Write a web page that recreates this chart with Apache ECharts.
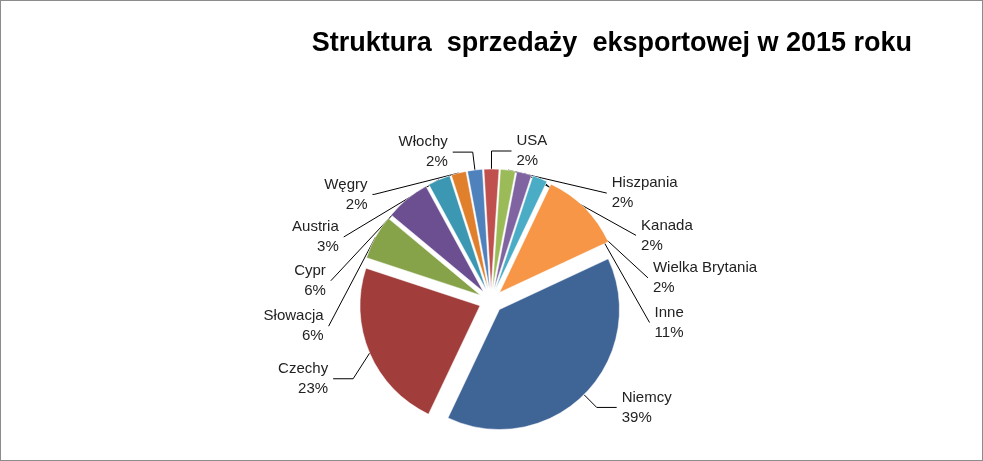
<!DOCTYPE html>
<html><head><meta charset="utf-8">
<script src="https://cdn.jsdelivr.net/npm/echarts@6/dist/echarts.min.js"></script>
<style>html,body{margin:0;padding:0;background:#fff}#c{width:981px;height:459px;border:1px solid #8c8c8c}</style>
</head><body><div id="c"></div>
<script>
const categories=['Niemcy','Czechy','Słowacja','Cypr','Austria','Węgry','Włochy','USA','Hiszpania','Kanada','Wielka Brytania','Inne'];
const values=[39,23,6,6,3,2,2,2,2,2,2,11];
const colors=['#3f6496','#a13d3b','#86a34a','#6b4f91','#3b97b2','#e07f2c','#4f81bd','#c0504d','#9bbb59','#8064a2','#4bacc6','#f79646'];
const chart=echarts.init(document.getElementById('c'));
chart.setOption({
  animation:false,
  title:{text:'Struktura  sprzedaży  eksportowej w 2015 roku',right:65,top:24,textStyle:{fontFamily:'Liberation Sans',fontSize:27,fontWeight:'bold',color:'#000'}},
  series:[{type:'pie',center:['490','300'],radius:[0,120],startAngle:25,selectedMode:'multiple',selectedOffset:12,
    label:{formatter:p=>p.name+'\n'+p.value+'%',fontFamily:'Liberation Sans',fontSize:15,color:'#222',lineHeight:20,align:'center'},
    labelLine:{length:18,length2:20,lineStyle:{color:'#000',width:1}},
    itemStyle:{borderColor:'#fff',borderWidth:0.5},
    data:categories.map((n,i)=>({name:n,value:values[i],selected:true,itemStyle:{color:colors[i]}}))}]
});
</script></body></html>
